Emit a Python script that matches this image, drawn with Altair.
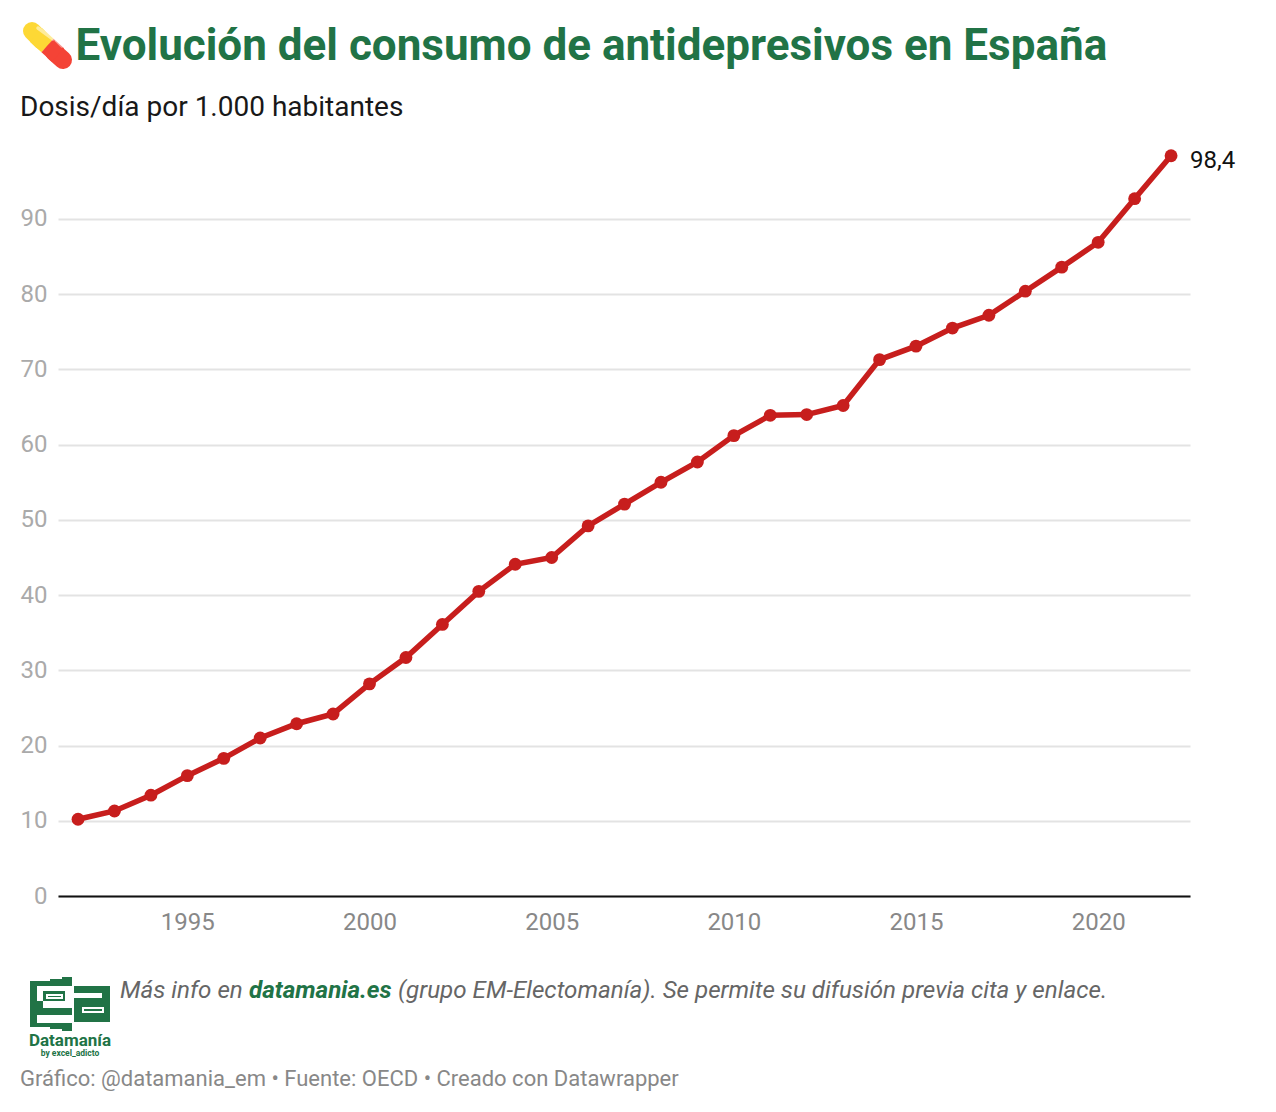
import altair as alt
import pandas as pd

years = list(range(1992, 2023))
values = [10.2, 11.3, 13.4, 16.0, 18.3, 21.0, 22.9, 24.2, 28.2, 31.7, 36.1, 40.5, 44.1, 45.0, 49.2,
          52.1, 55.0, 57.7, 61.2, 63.9, 64.0, 65.2, 71.3, 73.1, 75.5, 77.2, 80.4, 83.6, 86.9, 92.7, 98.4]
y_ticks = [0, 10, 20, 30, 40, 50, 60, 70, 80, 90]
x_ticks = [1995, 2000, 2005, 2010, 2015, 2020]

OX, OY = 58, 140
W, H = 1132, 756
GREEN = "#217346"
RED = "#c71e1d"
FONT = "Roboto"

df = pd.DataFrame({"year": years, "value": values})
one = alt.Data(values=[{"a": 0}])

x_enc = alt.X("year:Q", scale=alt.Scale(domain=[1991.45, 2022.52], nice=False, zero=False),
              axis=alt.Axis(values=x_ticks, format="d", title=None, grid=False, tickSize=0, labelPadding=14,
                            labelFontSize=24, labelColor="#888888", labelFont=FONT, domainColor="#111111",
                            domainWidth=2, labelFlush=False, labelOverlap=False))
y_enc = alt.Y("value:Q", scale=alt.Scale(domain=[0, 100.5], nice=False),
              axis=alt.Axis(values=y_ticks, title=None, grid=True, gridColor="#e3e3e3", gridWidth=2, tickSize=0,
                            domain=False, labelPadding=11, labelFontSize=24, labelColor="#aaaaaa", labelFont=FONT))

line = alt.Chart(df).mark_line(color=RED, strokeWidth=5.5).encode(x=x_enc, y=y_enc)
points = alt.Chart(df).mark_point(color=RED, filled=True, opacity=1, size=165).encode(x="year:Q", y="value:Q")
end_label = alt.Chart(df[df.year == 2022]).mark_text(
    text="98,4", align="left", baseline="middle", dx=19, dy=5, font=FONT, fontSize=24, color="#111111"
).encode(x="year:Q", y="value:Q")


def text(s, px, py, size, color, weight="normal", style="normal", align="left"):
    return alt.Chart(one).mark_text(text=s, align=align, baseline="alphabetic", font=FONT, fontSize=size,
                                    color=color, fontWeight=weight, fontStyle=style).encode(
        x=alt.value(px - OX), y=alt.value(py - OY))


def rect(x0, y0, x1, y1, color=GREEN):
    return alt.Chart(one).mark_rect(color=color).encode(
        x=alt.value(x0 - OX), x2=alt.value(x1 - OX), y=alt.value(y0 - OY), y2=alt.value(y1 - OY))


def stroke(x0, y0, x1, y1, color, width, cap="butt", opacity=1):
    return alt.Chart(one).mark_rule(color=color, strokeWidth=width, strokeCap=cap, opacity=opacity).encode(
        x=alt.value(x0 - OX), x2=alt.value(x1 - OX), y=alt.value(y0 - OY), y2=alt.value(y1 - OY))


pill = [
    stroke(32, 31, 42, 41, "#fdd835", 18, "round"),
    stroke(36, 35, 47.5, 45.5, "#fdd835", 18),
    stroke(54, 52, 63, 60, "#f44336", 18, "round"),
    stroke(47.5, 45.5, 58, 55, "#f44336", 18),
    stroke(38, 28, 53, 39, "#ffffff", 3.5, "round", 0.5),
    stroke(56, 40, 62, 46, "#ffffff", 3.5, "round", 0.45),
]

logo = [
    rect(30, 981, 72, 986), rect(50, 979, 72, 981), rect(62, 977, 72, 979), rect(30, 981, 37, 1027),
    rect(43, 991, 65, 1001), rect(46, 994, 63, 999, "#ffffff"), rect(48, 996, 61, 997, GREEN),
    rect(37, 1008, 72, 1015), rect(37, 1001, 43, 1008),
    rect(30, 1023, 72, 1027), rect(50, 1027, 72, 1029), rect(62, 1029, 72, 1031),
    rect(74, 986, 110, 993), rect(102, 993, 110, 998), rect(74, 998, 110, 1022),
    rect(82, 1007, 104, 1013, "#ffffff"), rect(84, 1009, 102, 1011, GREEN),
]

texts = [
    text("Evolución del consumo de antidepresivos en España", 75.5, 60, 44, GREEN, "bold"),
    text("Dosis/día por 1.000 habitantes", 20, 116, 28, "#181818"),
    text("Más info en", 120, 998, 24.2, "#666666", style="italic"),
    text("datamania.es", 249, 998, 24.2, GREEN, "bold", "italic"),
    text("(grupo EM-Electomanía). Se permite su difusión previa cita y enlace.", 398, 998, 24.2, "#666666", style="italic"),
    text("Datamanía", 70, 1046, 17, GREEN, "bold", align="center"),
    text("by excel_adicto", 70, 1056, 8.5, GREEN, "bold", align="center"),
    text("Gráfico: @datamania_em • Fuente: OECD • Creado con Datawrapper", 20, 1086, 22, "#888888"),
]

chart = alt.layer(line, points, end_label, *pill, *logo, *texts).properties(
    width=W, height=H, autosize="none",
    padding={"left": OX - 8, "top": OY - 8, "right": 70, "bottom": 200},
    background="white",
).configure_view(stroke=None)

chart.save("out.html", embed_options={"renderer": "svg", "actions": False})
